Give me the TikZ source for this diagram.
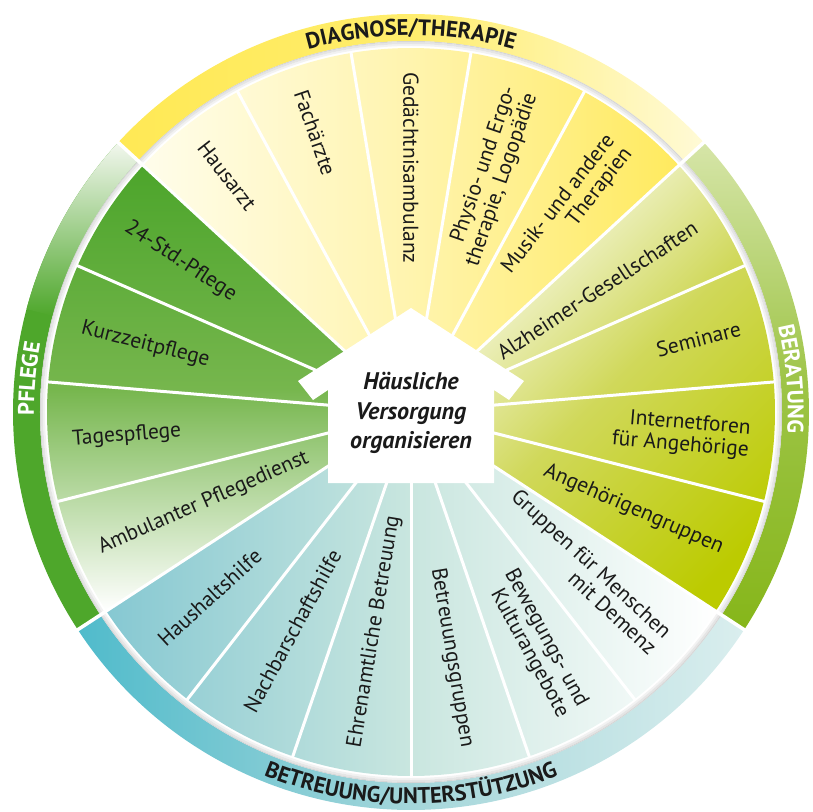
\documentclass[tikz,border=0pt]{standalone}
\usepackage{fontspec}
\setmainfont{PT Sans}
\usetikzlibrary{decorations.text}

% segment colours
\definecolor{dgA}{HTML}{FFFDEB}
\definecolor{dgB}{HTML}{FFF4AE}
\definecolor{dgC}{HTML}{FFEA5E}
\definecolor{plA}{HTML}{4CA52B}
\definecolor{plB}{HTML}{76B64D}
\definecolor{brB}{HTML}{D0D85A}
\definecolor{brC}{HTML}{BCCB00}
\definecolor{btA}{HTML}{86C8D2}
\definecolor{btB}{HTML}{C9E6DF}
% ring colours
\definecolor{rdA}{HTML}{FFE955}
\definecolor{rdB}{HTML}{FFED6C}
\definecolor{rdC}{HTML}{FFFAD6}
\definecolor{rbA}{HTML}{D6E5A8}
\definecolor{rbB}{HTML}{9DC446}
\definecolor{rbC}{HTML}{86B61A}
\definecolor{rtA}{HTML}{50BBCB}
\definecolor{rtB}{HTML}{A4D6DA}
\definecolor{rtC}{HTML}{DAEEEE}
\definecolor{rpA}{HTML}{4EA72B}
\definecolor{rpW}{HTML}{F2F7EE}
\definecolor{ink}{HTML}{1A1A1A}

\newcommand{\ringfont}{\fontsize{22.5}{22.5}\selectfont\bfseries}

\begin{document}
\begin{tikzpicture}[x=1pt,y=1pt,
  seglabel/.style={font=\fontsize{21.5}{22}\selectfont, text=ink, inner sep=0pt},
  outlabel/.style={seglabel, anchor=east, align=right},
  inlabel/.style={seglabel, anchor=west, align=left},
  divider/.style={white, line width=3pt}]
\useasboundingbox (-411,-399) rectangle (402,412);

% outer ring
\shade[left color=rdA, right color=rdC, middle color=rdB] (42.63:371) arc[start angle=42.63, end angle=137.37, radius=371] -- (137.37:398) arc[start angle=137.37, end angle=42.63, radius=398] -- cycle;
\shade[top color=rbA, bottom color=rbC, middle color=rbB] (-33.16:371) arc[start angle=-33.16, end angle=42.63, radius=371] -- (42.63:398) arc[start angle=42.63, end angle=-33.16, radius=398] -- cycle;
\shade[left color=rtA, right color=rtC, middle color=rtB] (213.16:371) arc[start angle=213.16, end angle=326.84, radius=371] -- (326.84:398) arc[start angle=326.84, end angle=213.16, radius=398] -- cycle;
\fill[rpA] (137.37:371) arc[start angle=137.37, end angle=213.16, radius=371] -- (213.16:398) arc[start angle=213.16, end angle=137.37, radius=398] -- cycle;
\shade[top color=rpW, bottom color=rpA] (137.37:371) arc[start angle=137.37, end angle=165, radius=371] -- (165:398) arc[start angle=165, end angle=137.37, radius=398] -- cycle;

% segments
\shade[left color=dgA, right color=dgC, middle color=dgB] (0,0) -- (42.63:364) arc[start angle=42.63, end angle=137.37, radius=364] -- cycle;
\shade[top color=plA, bottom color=white, middle color=plB] (0,0) -- (137.37:364) arc[start angle=137.37, end angle=213.16, radius=364] -- cycle;
\shade[left color=btA, right color=white, middle color=btB] (0,0) -- (213.16:364) arc[start angle=213.16, end angle=326.84, radius=364] -- cycle;
\shade[top color=white, bottom color=brC, middle color=brB, shading angle=45] (0,0) -- (-33.16:364) arc[start angle=-33.16, end angle=42.63, radius=364] -- cycle;
\foreach \b in {0,...,18}
  \draw[divider] (0,0) -- ({4.7368+18.9474*\b}:365);

% shadow under the ring
\draw[black!5, line width=2pt] (0,0) circle[radius=367];
\draw[black!10, line width=2pt] (0,0) circle[radius=369];
\draw[black!16, line width=1pt] (0,0) circle[radius=370.5];
\foreach \b in {42.63,137.37,213.16,326.84}
  \draw[white, line width=3.5pt] (\b:364) -- (\b:400);

% house
\fill[white] (0,104) -- (113,31) -- (98,12) -- (83,22) -- (83,-71) -- (-83,-71) -- (-83,22) -- (-98,12) -- (-113,31) -- cycle;
\node[font=\fontsize{24}{29.5}\selectfont\bfseries\itshape, text=ink, align=center] (hv) at (0,-1) {Häusliche\\Versorgung\\organisieren};

% ring texts
\path[decorate, decoration={text along path, text align=center, text color=ink, text={|\ringfont|DIAGNOSE/THERAPIE}}] (130:377) arc[start angle=130, end angle=50, radius=377];
\path[decorate, decoration={text along path, text align=center, text color=white, text={|\ringfont|BERATUNG}}] (40:377) arc[start angle=40, end angle=-30, radius=377];
\path[decorate, decoration={text along path, text align=center, text color=white, text={|\ringfont|PFLEGE}}] (210:377) arc[start angle=210, end angle=140, radius=377];
\path[decorate, decoration={text along path, text align=center, text color=ink, text={|\ringfont|BETREUUNG/UNTERSTÜTZUNG}}] (215:392) arc[start angle=215, end angle=325, radius=392];

% segment labels
\node[outlabel, rotate=14.21] (seminare) at (14.21:340) {Seminare};
\node[outlabel, rotate=33.16] (alzheimer) at (33.16:340) {Alzheimer-Gesellschaften};
\node[outlabel, rotate=52.11] (musik) at (52.11:340) {Musik- und andere\\Therapien};
\node[outlabel, rotate=71.05] (physio) at (71.05:340) {Physio- und Ergo-\\therapie, Logopädie};
\node[inlabel, rotate=-90] (gedaechtnis) at (90:340) {Gedächtnisambulanz};
\node[inlabel, rotate=-71.05] (fachaerzte) at (108.95:340) {Fachärzte};
\node[inlabel, rotate=-52.11] (hausarzt) at (127.89:340) {Hausarzt};
\node[inlabel, rotate=-33.16] (std) at (146.84:340) {24-Std.-Pflege};
\node[inlabel, rotate=-14.21] (kurzzeit) at (165.79:340) {Kurzzeitpflege};
\node[inlabel, rotate=4.74] (tages) at (184.74:340) {Tagespflege};
\node[inlabel, rotate=23.68] (ambulant) at (203.68:340) {Ambulanter Pflegedienst};
\node[inlabel, rotate=42.63] (haushalt) at (222.63:340) {Haushaltshilfe};
\node[inlabel, rotate=61.58] (nachbar) at (241.58:340) {Nachbarschaftshilfe};
\node[inlabel, rotate=80.53] (ehrenamt) at (260.53:340) {Ehrenamtliche Betreuung};
\node[outlabel, rotate=-80.53] (btgruppen) at (279.47:340) {Betreuungsgruppen};
\node[outlabel, rotate=-61.58] (bewegung) at (298.42:340) {Bewegungs- und\\Kulturangebote};
\node[outlabel, rotate=-42.63] (demenz) at (317.37:340) {Gruppen für Menschen\\mit Demenz};
\node[outlabel, rotate=-23.68] (angehgr) at (336.32:340) {Angehörigengruppen};
\node[outlabel, rotate=-4.74] (foren) at (355.26:340) {Internetforen\\für Angehörige};
\end{tikzpicture}
\end{document}
